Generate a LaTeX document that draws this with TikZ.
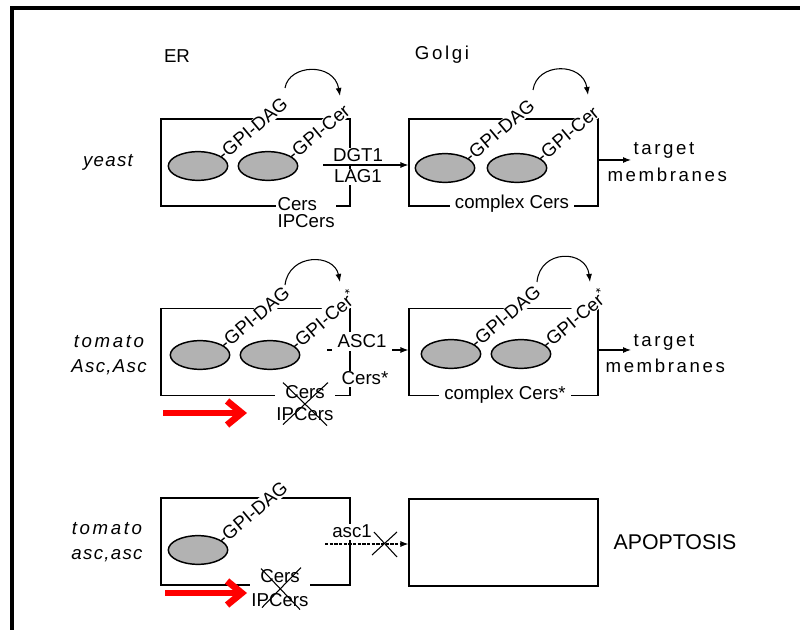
\documentclass[tikz,border=0pt]{standalone}
\usepackage{fontspec}
\setmainfont{Liberation Sans}
\newfontfamily\spaced[LetterSpace=14]{Liberation Sans}
\newfontfamily\lspaced[LetterSpace=7]{Liberation Sans}
\usetikzlibrary{shapes.geometric,arrows.meta}
\begin{document}
\begin{tikzpicture}[x=0.75pt,y=-0.75pt,
  lab/.style={font=\fontsize{14}{16}\selectfont, inner sep=1pt},
  wlab/.style={lab, fill=white},
  gpi/.style={lab, fill=white, rotate=40, anchor=west, inner sep=0.6pt},
  cell/.style={ellipse, draw, line width=1.1pt, fill=gray!60, minimum width=44.5pt, minimum height=21.5pt, inner sep=0pt},
  comp/.style={draw, line width=0.8pt, minimum width=141.75pt, minimum height=65.25pt, inner sep=0pt},
  arr/.style={line width=0.8pt, -{Latex[length=6pt,width=4.5pt]}},
  redarr/.style={draw=red, line width=5pt, -{Straight Barb[length=11pt,width=18pt]}},
  cross/.style={line width=0.8pt}
]
\useasboundingbox (0,0) rectangle (800,630);
\fill[white] (0,0) rectangle (800,630);
\draw[line width=3pt] (12,640) -- (12,8.5) -- (810,8.5);

% headers
\node[lab, anchor=base] (er) at (177,63) {ER};
\node[lab, anchor=base] (golgi) at (442,60) {\spaced Golgi};

% ---------- Row 1 ----------
\node[lab, anchor=base] (yeast) at (108,167) {\lspaced\itshape yeast};
\node[comp] (er1) at (255.5,162.5) {};
\node[comp] (g1) at (503.5,162.5) {};
\coordinate (e11c) at (198,166);
\coordinate (e12c) at (268,166);
\coordinate (e21c) at (445,168);
\coordinate (e22c) at (517,168);
\node[gpi] (gd11) at ([shift={(21,-9)}]e11c) {-GPI-DAG};
\node[gpi] (gc11) at ([shift={(21,-9)}]e12c) {-GPI-Cer};
\node[gpi] (gd12) at ([shift={(21,-9)}]e21c) {-GPI-DAG};
\node[gpi] (gc12) at ([shift={(21,-9)}]e22c) {-GPI-Cer};
\node[cell] (e11) at (e11c) {};
\node[cell] (e12) at (e12c) {};
\node[cell] (e21) at (e21c) {};
\node[cell] (e22) at (e22c) {};
\node[wlab, anchor=base] (dgt) at (358,162) {DGT1};
\node[wlab, anchor=base] (lag) at (358,183) {LAG1};
\node[wlab, anchor=north west, align=left, font=\fontsize{14}{12.75}\selectfont, inner ysep=2pt] (cers1) at (276,195) {Cers\\IPCers};
\node[wlab, anchor=base, inner xsep=3.75pt] (cx1) at (512,209) {complex Cers};
\coordinate (a1s) at (323,165);
\draw[arr] (a1s) -- (a1s -| g1.west);
\coordinate (t1s) at (598,160);
\coordinate (t1e) at (631,160);
\draw[arr] (t1s) -- (t1e);
\node[lab, anchor=base west] (tg1) at (632,155) {\spaced target};
\node[lab, anchor=base west] (mb1) at (606,182) {\spaced membranes};
\coordinate (c1a) at (285,88); \coordinate (c1b) at (340,96);
\draw[arr] (c1a) .. controls (289,64) and (334,62) .. (c1b);
\coordinate (c2a) at (533,90); \coordinate (c2b) at (588,95);
\draw[arr] (c2a) .. controls (537,62) and (583,62) .. (c2b);

% ---------- Row 2 ----------
\node[lab, anchor=base] (tom2) at (109,348) {\spaced\itshape tomato};
\node[lab, anchor=base] (asc2) at (109,373) {\lspaced\itshape Asc,Asc};
\node[comp] (er2) at (255.5,352) {};
\node[comp] (g2) at (503.5,352) {};
\coordinate (f11c) at (200,355);
\coordinate (f12c) at (270,355);
\coordinate (f21c) at (451,354);
\coordinate (f22c) at (521,354);
\node[gpi] (gd21) at ([shift={(21,-9)}]f11c) {-GPI-DAG};
\node[gpi] (gc21) at ([shift={(21,-9)}]f12c) {-GPI-Cer\textsuperscript{*}};
\node[gpi] (gd22) at ([shift={(21,-9)}]f21c) {-GPI-DAG};
\node[gpi] (gc22) at ([shift={(21,-9)}]f22c) {-GPI-Cer\textsuperscript{*}};
\node[cell] (f11) at (f11c) {};
\node[cell] (f12) at (f12c) {};
\node[cell] (f21) at (f21c) {};
\node[cell] (f22) at (f22c) {};
\coordinate (a2s) at (327,350);
\draw[arr] (a2s) -- (a2s -| g2.west);
\node[wlab, anchor=base, inner xsep=4.5pt, inner ysep=2pt] (asc1) at (362,348) {ASC1};
\node[wlab, anchor=base] (cs2) at (365,385) {Cers*};
\node[wlab, anchor=north, align=center, font=\fontsize{14}{16.5}\selectfont, inner ysep=2pt] (cr2) at (305,383) {Cers\\IPCers};
\draw[cross] (cr2.center) ++(-22,-21) -- ++(44,43);
\draw[cross] (cr2.center) ++(23,-21) -- ++(-45,42);
\node[wlab, anchor=base, inner xsep=3.75pt] (cx2) at (505,400) {complex Cers*};
\coordinate (t2s) at (598,350);
\coordinate (t2e) at (631,350);
\draw[arr] (t2s) -- (t2e);
\node[lab, anchor=base west] (tg2) at (632,347) {\spaced target};
\node[lab, anchor=base west] (mb2) at (604,373) {\spaced membranes};
\coordinate (c3a) at (285,285); \coordinate (c3b) at (340,282);
\draw[arr] (c3a) .. controls (289,253) and (334,253) .. (c3b);
\coordinate (c4a) at (537,282); \coordinate (c4b) at (590,282);
\draw[arr] (c4a) .. controls (540,249) and (586,249) .. (c4b);
\coordinate (r2s) at (163,413); \coordinate (r2e) at (247,413);
\draw[redarr] (r2s) -- (r2e);

% ---------- Row 3 ----------
\node[lab, anchor=base] (tom3) at (107,535) {\spaced\itshape tomato};
\node[lab, anchor=base] (asc3) at (107,560) {\lspaced\itshape asc,asc};
\node[comp] (er3) at (255.5,541.5) {};
\node[comp] (g3) at (503.5,542.5) {};
\coordinate (h11c) at (198,550);
\node[gpi] (gd31) at ([shift={(21,-9)}]h11c) {-GPI-DAG};
\node[cell] (h11) at (h11c) {};
\node[wlab, anchor=base] (asc1b) at (352,538) {asc1};
\coordinate (a3s) at (325,544);
\draw[arr, dash pattern=on 2.5pt off 1pt] (a3s) -- (a3s -| g3.west);
\coordinate (x3) at (385,544);
\draw[cross] ([shift={(-11,-12)}]x3) -- ([shift={(12,13)}]x3);
\draw[cross] ([shift={(12,-12)}]x3) -- ([shift={(-13,11)}]x3);
\node[wlab, anchor=north, align=center, font=\fontsize{14}{18}\selectfont, inner ysep=2pt] (cr3) at (280,567) {Cers\\IPCers};
\draw[cross] (cr3.center) ++(-19,-20) -- ++(39,41);
\draw[cross] (cr3.center) ++(21,-21) -- ++(-39,40);
\node[lab, anchor=base, font=\fontsize{16}{18}\selectfont] (apo) at (675,550) {APOPTOSIS};
\coordinate (r3s) at (165,593); \coordinate (r3e) at (247,593);
\draw[redarr] (r3s) -- (r3e);
\end{tikzpicture}
\end{document}
